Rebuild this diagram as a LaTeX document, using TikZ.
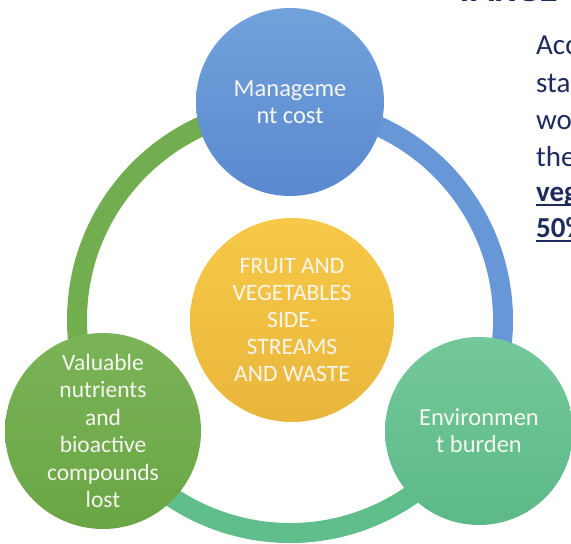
\documentclass[tikz,border=0pt]{standalone}
\usepackage{fontspec}
\setmainfont{Carlito}
\definecolor{arcgreen}{HTML}{72AD4F}
\definecolor{arcblue}{HTML}{6797D6}
\definecolor{arcteal}{HTML}{5FBE8B}
\definecolor{bluetop}{HTML}{72A2DB}
\definecolor{bluebot}{HTML}{5A89CF}
\definecolor{yeltop}{HTML}{F7C948}
\definecolor{yelbot}{HTML}{E9B63B}
\definecolor{grntop}{HTML}{7AB457}
\definecolor{grnbot}{HTML}{6AA545}
\definecolor{tealtop}{HTML}{74C89B}
\definecolor{tealbot}{HTML}{5CB987}
\definecolor{navy}{HTML}{1F2B5C}
\definecolor{bubbletext}{HTML}{F6F6F0}
\newcommand\myul[1]{\setbox0\hbox{#1}\rlap{\rule[-4.5pt]{\wd0}{2pt}}\box0}
\begin{document}
\begin{tikzpicture}[x=1pt,y=1pt,
  arcline/.style={line width=20pt},
  bubble/.style={circle, inner sep=0pt, align=center, text=bubbletext,
    font=\fontsize{24.5}{27}\selectfont},
  slidetext/.style={anchor=base west, inner sep=0pt, text=navy,
    font=\fontsize{29}{35}\selectfont}]
\useasboundingbox (0,0) rectangle (571,544);
\fill[white] (0,0) rectangle (571,544);
\coordinate (ring) at (290,224);
% ring segments
\draw[arcline, draw=arcgreen] (ring) ++(90:213) arc[start angle=90, end angle=210, radius=213];
\draw[arcline, draw=arcblue] (ring) ++(-30:213) arc[start angle=-30, end angle=90, radius=213];
\draw[arcline, draw=arcteal] (ring) ++(210:213) arc[start angle=210, end angle=330, radius=213];
% circles
\node[bubble, top color=bluetop, bottom color=bluebot, minimum size=188] (cost) at (290,442) {Manageme\\nt cost};
\node[bubble, top color=yeltop, bottom color=yelbot, minimum size=204,
  font=\fontsize{23.5}{27}\selectfont] (waste) at (292,224) {FRUIT AND\\VEGETABLES\\SIDE-\\STREAMS\\AND WASTE};
\node[bubble, top color=grntop, bottom color=grnbot, minimum size=196,
  font=\fontsize{23.5}{27.5}\selectfont] (nutr) at (103,113) {Valuable\\nutrients\\and\\bioactive\\compounds\\lost};
\node[bubble, top color=tealtop, bottom color=tealbot, minimum size=188] (env) at (479,113) {Environmen\\t burden};
% slide text (cut off at the right edge)
\begin{scope}
\clip (0,0) rectangle (571,544);
\node[slidetext, font=\fontsize{38}{40}\selectfont\bfseries] (head) at (455,542) {TARGE};
\node[slidetext] (l1) at (536,489) {Acc};
\node[slidetext] (l2) at (536,451) {sta};
\node[slidetext] (l3) at (536,414) {wo};
\node[slidetext] (l4) at (536,377) {the};
\node[slidetext, font=\fontsize{29}{35}\selectfont\bfseries] (l5) at (536,342) {\myul{veg}};
\node[slidetext, font=\fontsize{29}{35}\selectfont\bfseries] (l6) at (536,306) {\myul{50\%}};
\end{scope}
\end{tikzpicture}
\end{document}
